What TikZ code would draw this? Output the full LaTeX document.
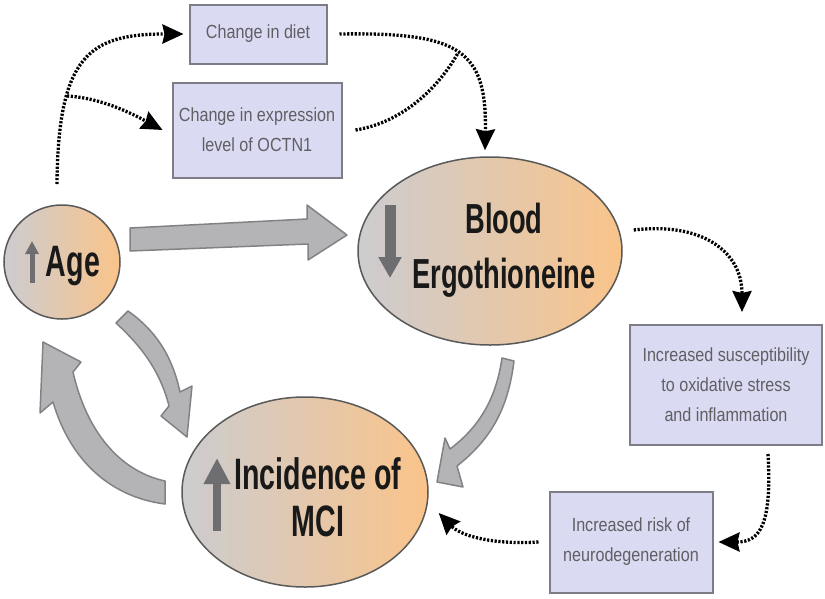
\documentclass[tikz,border=0pt]{standalone}
\usepackage{fontspec}
\setmainfont{Liberation Sans}
\newfontfamily\bubblefont[FakeStretch=0.65]{Liberation Sans}
\newfontfamily\boxfont[FakeStretch=0.85]{Liberation Sans}
\usetikzlibrary{arrows.meta,shapes.geometric}
\definecolor{boxfill}{RGB}{218,218,242}
\definecolor{boxline}{RGB}{125,125,135}
\definecolor{boxtext}{RGB}{95,95,100}
\definecolor{bubbleleft}{RGB}{204,204,208}
\definecolor{bubbleright}{RGB}{250,196,138}
\definecolor{blockfill}{RGB}{180,180,182}
\definecolor{blockline}{RGB}{130,130,134}
\definecolor{updown}{RGB}{110,110,112}
\tikzset{
  infobox/.style={draw=boxline, line width=2pt, fill=boxfill, inner sep=0pt, align=center,
    text=boxtext, font=\boxfont\fontsize{19}{30}\selectfont},
  bubble/.style={ellipse, draw=black!65, line width=1.5pt, left color=bubbleleft,
    right color=bubbleright, inner sep=0pt},
  bubbletext/.style={align=center, inner sep=0pt, text=black!90, font=\bubblefont\bfseries\fontsize{42}{55}\selectfont},
  dotline/.style={line width=3.3pt, dash pattern=on 2.2pt off 1.6pt},
  dotarrow/.style={dotline, -{Stealth[length=21pt,width=19pt,inset=2pt]}},
  blockarrow/.style={fill=blockfill, draw=blockline, line width=1.5pt, line join=round},
  trend/.style={draw=updown}
}
\begin{document}
\begin{tikzpicture}[x=1pt,y=-1pt]
    \useasboundingbox (0,0) rectangle (825,598);
    % boxes
    \node[infobox, minimum width=137pt, minimum height=59pt] (diet) at (258,34) {Change in diet};
    \node[infobox, minimum width=169pt, minimum height=95pt] (octn) at (257,130) {Change in expression\\level of OCTN1};
    \node[infobox, minimum width=192pt, minimum height=120pt] (susc) at (726,385) {Increased susceptibility\\to oxidative stress\\and inflammation};
    \node[infobox, minimum width=163pt, minimum height=101pt] (neuro) at (631,542) {Increased risk of\\neurodegeneration};
    % ellipses
    \node[bubble, minimum width=116pt, minimum height=114pt] (age) at (62,262) {};
    \node[bubble, minimum width=264pt, minimum height=188pt] (blood) at (490,251) {};
    \node[bubble, minimum width=246pt, minimum height=190pt] (mci) at (305,492) {};
    \node[bubbletext, font=\bubblefont\bfseries\fontsize{44}{50}\selectfont] (agetxt) at (73,266) {Age};
    \node[bubbletext] (bloodtxt) at (504,250) {Blood\\Ergothioneine};
    \node[bubbletext, font=\bubblefont\bfseries\fontsize{44}{47}\selectfont] (mcitxt) at (318,497) {Incidence of\\MCI};
    \draw[trend, line width=5pt, -{Triangle[length=13pt,width=13pt]}] (32,283) -- (32,241);
    \draw[trend, line width=11pt, -{Triangle[length=21pt,width=22pt]}] (390,205) -- (390,278);
    \draw[trend, line width=8pt, -{Triangle[length=26pt,width=25pt]}] (217,531) -- (217,458);
    % big arrows
    \draw[blockarrow] (130,228) -- (307,219) -- (307,205) -- (347,235) -- (308,260) -- (308,244) -- (130,251) -- cycle;
    \draw[blockarrow] (116,323) -- (128,311) .. controls (155,330) and (172,355) .. (180,392)
        -- (192,386) -- (187,437) -- (161,416) -- (169,406) .. controls (160,370) and (140,345) .. (116,323) -- cycle;
    \draw[blockarrow] (165,481) .. controls (115,470) and (85,425) .. (73,372) -- (81,362) -- (43,342)
        -- (40,413) -- (53,402) .. controls (70,460) and (110,497) .. (165,504) -- cycle;
    \draw[blockarrow] (502,358) -- (514,361) .. controls (508,410) and (490,440) .. (457,466) -- (463,487)
        -- (437,482) -- (445,438) -- (450,449) .. controls (478,428) and (496,400) .. (502,358) -- cycle;
    % dotted links
    \coordinate (agetop) at (57,184);
    \coordinate (split) at (67,96);
    \coordinate (merge) at (458,53);
    \draw[dotarrow] (agetop) .. controls (58,55) and (90,34) .. ([xshift=-5pt]diet.west);
    \draw[dotarrow] (split) .. controls (105,98) and (140,118) .. ([xshift=-9pt]octn.west);
    \draw[dotarrow] ([xshift=12pt]diet.east) .. controls (460,32) and (487,50) .. ([xshift=-5pt,yshift=6pt]blood.north);
    \draw[dotline] ([xshift=13pt]octn.east) .. controls (405,122) and (440,85) .. (merge);
    \draw[dotarrow] ([xshift=11pt,yshift=21pt]blood.east) .. controls (700,222) and (742,250) .. ([xshift=16pt,yshift=12pt]susc.north);
    \draw[dotarrow] ([xshift=42pt,yshift=-8pt]susc.south) .. controls (772,525) and (760,542) .. ([xshift=5pt]neuro.east);
    \draw[dotarrow] ([xshift=-10pt]neuro.west) .. controls (490,545) and (460,535) .. ([xshift=10pt,yshift=-21pt]mci.east);
\end{tikzpicture}
\end{document}
